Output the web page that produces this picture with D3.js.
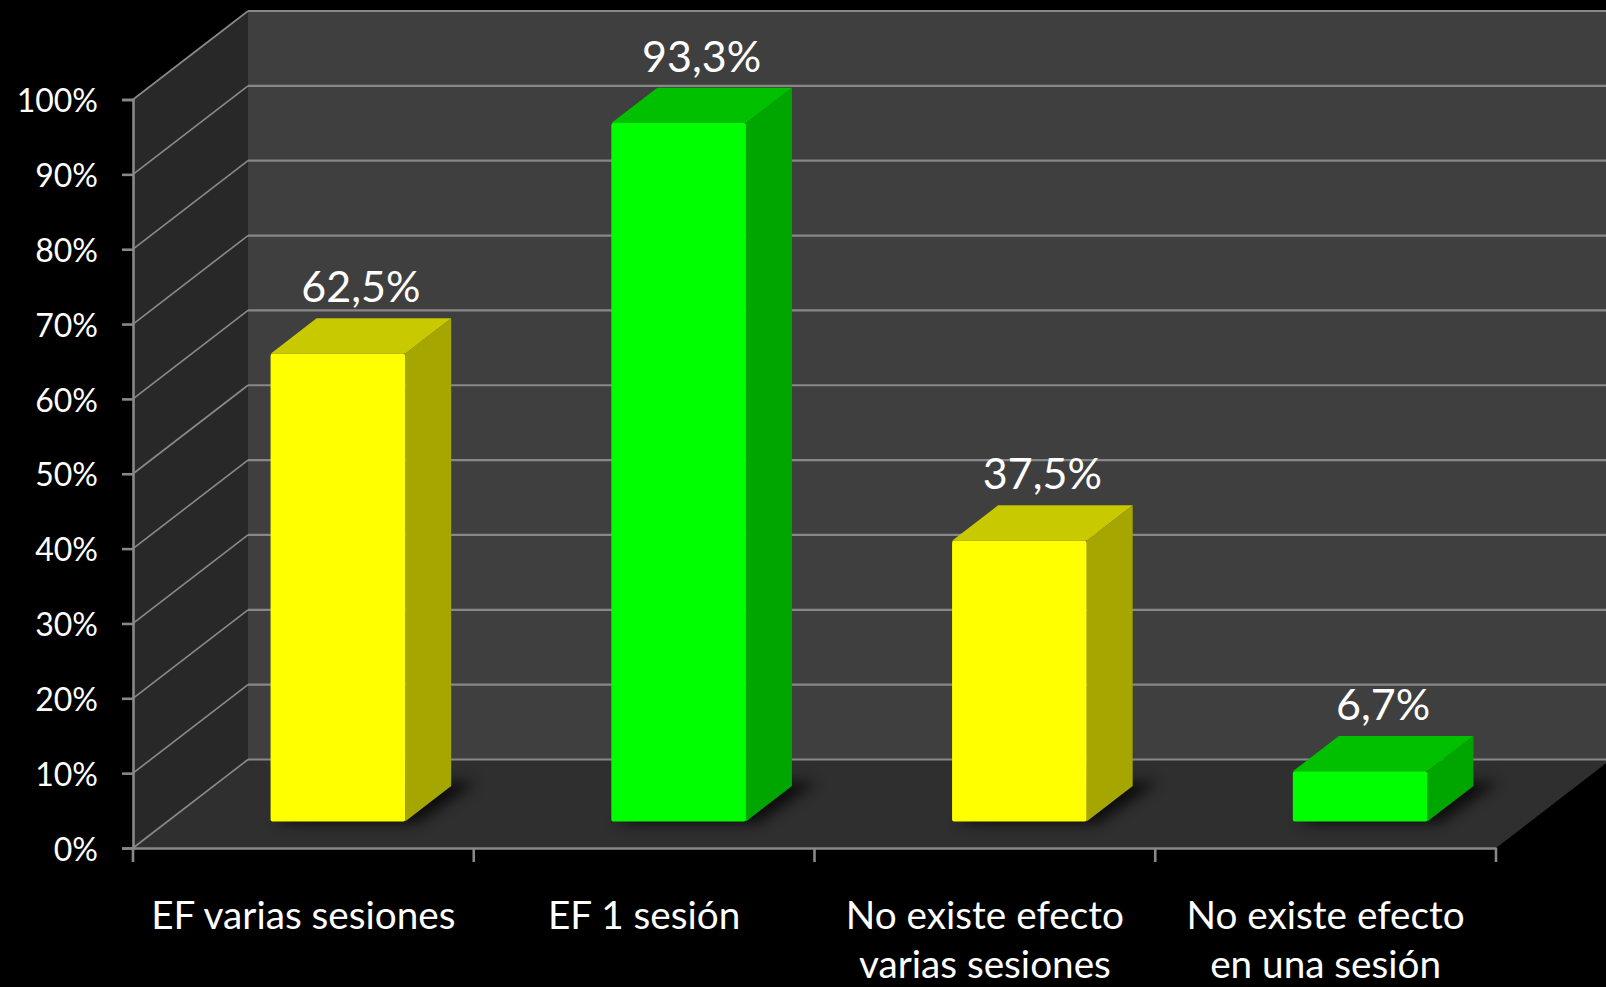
<!DOCTYPE html>
<html>
<head>
<meta charset="utf-8">
<script src="https://cdn.jsdelivr.net/npm/d3@7"></script>
<style>
  html, body { margin: 0; padding: 0; background: #000; overflow: hidden; }
  svg { display: block; }
  text { font-family: Lato, "Open Sans", sans-serif; fill: #fff; }
</style>
</head>
<body>
<svg id="chart" width="1606" height="987"></svg>
<script>
// ---- data ----
const categories = ["EF varias sesiones", "EF 1 sesión", "No existe efecto\nvarias sesiones", "No existe efecto\nen una sesión"];
const values = [0.625, 0.933, 0.375, 0.067];
const sessionType = ["varias", "una", "varias", "una"];
const yTicks = [0, 0.1, 0.2, 0.3, 0.4, 0.5, 0.6, 0.7, 0.8, 0.9, 1.0];

// ---- layout ----
const W = 1606, H = 987;
const X0 = 133, X1 = 1496;       // front axis extent
const Y0 = 848, Y1 = 99.5;       // front 0% and 100%
const DX = 115, DY = -88.5;      // depth offset of the back wall
const FRONT = 0.3, BACK = 0.7;   // bar depth range (fraction of depth)
const BARW = 0.395;              // bar width as fraction of band

const palette = {
  varias: { front: "#ffff00", top: "#c9c900", side: "#a6a600" },
  una:    { front: "#00ff00", top: "#00c000", side: "#00a600" }
};

const svg = d3.select("#chart");
svg.append("rect").attr("width", W).attr("height", H).attr("fill", "#000");

const x = d3.scaleBand().domain(categories).range([X0, X1]).padding(0);
const y = d3.scaleLinear().domain([0, 1]).range([Y0, Y1]);

const P = (px, v, d) => [px + d * DX, y(v) + d * DY];
const pts = arr => arr.map(p => p.join(",")).join(" ");

const defs = svg.append("defs");
defs.append("filter").attr("id", "shadow").attr("x", "-30%").attr("y", "-100%").attr("width", "160%").attr("height", "300%")
  .append("feGaussianBlur").attr("stdDeviation", 7);

// walls
const g = svg.append("g");
g.append("polygon")
  .attr("points", pts([P(X0, 1, 0), P(X0, 1, 1), P(X0, 0, 1), P(X0, 0, 0)]))
  .attr("fill", "#282828");
g.append("polygon")
  .attr("points", pts([P(X0, 1, 1), [W + 10, y(1) + DY], [W + 10, y(0) + DY], P(X0, 0, 1)]))
  .attr("fill", "#3f3f3f");
g.append("polygon")
  .attr("points", pts([P(X0, 0, 0), P(X1, 0, 0), P(X1, 0, 1), P(X0, 0, 1)]))
  .attr("fill", "#2f2f2f");

// gridlines
yTicks.forEach(t => {
  const a = P(X0, t, 0), b = P(X0, t, 1);
  g.append("line").attr("x1", a[0]).attr("y1", a[1]).attr("x2", b[0]).attr("y2", b[1])
    .attr("stroke", "#8a8a8a").attr("stroke-width", 1.6);
  g.append("line").attr("x1", b[0]).attr("y1", b[1]).attr("x2", W + 10).attr("y2", b[1])
    .attr("stroke", "#888").attr("stroke-width", 2.2);
});

// y axis
const yAxis = d3.axisLeft(y).tickValues(yTicks).tickFormat(d3.format(".0%")).tickSize(11).tickPadding(24);
const ya = svg.append("g").attr("transform", `translate(${X0},0)`).call(yAxis);
ya.select(".domain").attr("stroke", "#888").attr("stroke-width", 2.6);
ya.selectAll(".tick line").attr("stroke", "#888").attr("stroke-width", 2.6);
ya.selectAll(".tick text").attr("font-size", 32).attr("fill", "#fff")
  .attr("font-family", "Lato, sans-serif").attr("dy", "0.38em");

// x axis
const xAxis = d3.axisBottom(x).tickValues([]).tickSize(0).tickSizeOuter(0);
const xa = svg.append("g").attr("transform", `translate(0,${Y0})`).call(xAxis);
xa.select(".domain").attr("stroke", "#888").attr("stroke-width", 2.6);
const bounds = categories.map(c => x(c)).concat([X1]);
xa.selectAll("line.cat").data(bounds).join("line").attr("class", "cat")
  .attr("x1", d => d).attr("x2", d => d).attr("y1", 0).attr("y2", 14)
  .attr("stroke", "#888").attr("stroke-width", 2.6);

// category labels
categories.forEach(c => {
  const lines = c.split("\n");
  const t = svg.append("text").attr("text-anchor", "middle").attr("font-size", 38.7);
  lines.forEach((ln, i) => {
    t.append("tspan").attr("x", x(c) + x.bandwidth() / 2).attr("y", 929 + i * 49).text(ln);
  });
});

// bars
const locale = d3.formatLocale({ decimal: ",", thousands: ".", grouping: [3], currency: ["", "€"] });
const fmt = locale.format(".1%");
const bw = x.bandwidth() * BARW;

const bars = svg.append("g");
categories.forEach((c, i) => {
  const v = values[i];
  const col = palette[sessionType[i]];
  const l = x(c) + (x.bandwidth() - bw) / 2, r = l + bw;
  bars.append("polygon")
    .attr("points", pts([P(l + 6, 0, FRONT - 0.02), P(r + 14, 0, FRONT - 0.02), P(r + 20, 0, BACK + 0.05), P(l + 12, 0, BACK + 0.05)]))
    .attr("fill", "#000").attr("opacity", 0.75).attr("filter", "url(#shadow)");
  bars.append("polygon")
    .attr("points", pts([P(r, v, FRONT), P(r, v, BACK), P(r, 0, BACK), P(r, 0, FRONT)]))
    .attr("fill", col.side);
  bars.append("polygon")
    .attr("points", pts([P(l, v, FRONT), P(r, v, FRONT), P(r, v, BACK), P(l, v, BACK)]))
    .attr("fill", col.top);
  const fl = P(l, v, FRONT), fb = P(r, 0, FRONT);
  bars.append("rect").attr("x", fl[0]).attr("y", fl[1]).attr("width", fb[0] - fl[0]).attr("height", fb[1] - fl[1])
    .attr("fill", col.front).attr("rx", 2);
  const lp = P((l + r) / 2, v, BACK);
  svg.append("text").attr("text-anchor", "middle").attr("font-size", 43)
    .attr("x", lp[0] - 0.2 * DX).attr("y", lp[1] - 16).text(fmt(v));
});
</script>
</body>
</html>
